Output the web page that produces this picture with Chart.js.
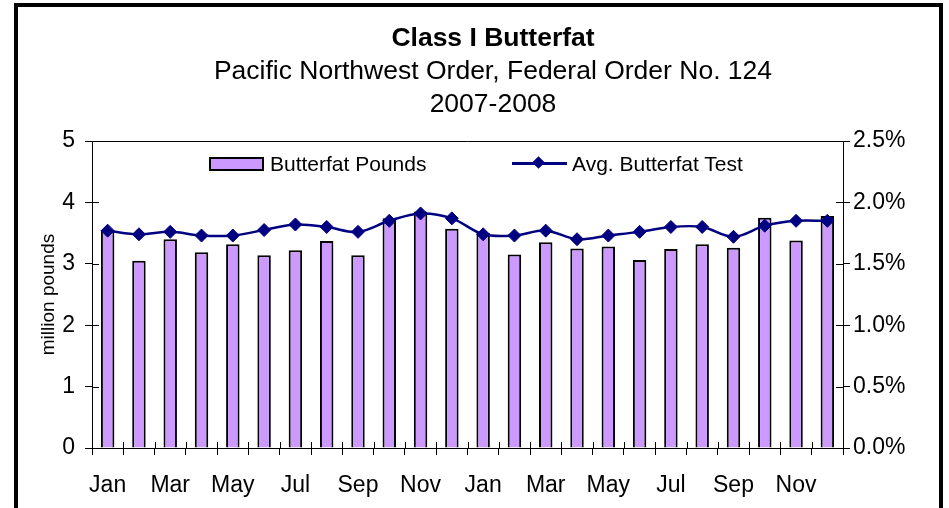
<!DOCTYPE html>
<html>
<head>
<meta charset="utf-8">
<script src="https://cdn.jsdelivr.net/npm/chart.js@4.4.1/dist/chart.umd.min.js"></script>
<style>
  body { margin: 0; background: #fff; font-family: "Liberation Sans", Arial, sans-serif; }
  #wrap { position: relative; width: 949px; height: 508px; overflow: hidden; }
  #frame { position: absolute; left: 14px; top: 3px; width: 929px; height: 600px; border: 4px solid #000; box-sizing: border-box; pointer-events: none; }
  #titles { position: absolute; left: 0; top: 21px; width: 986px; text-align: center; font-size: 26.5px; line-height: 33px; color: #000; }
  #titles .main { font-weight: bold; }
  .leg { position: absolute; font-size: 21px; line-height: 24px; color: #000; }
  #legBox { position: absolute; left: 209px; top: 157px; width: 55px; height: 14px; background: #CC99FF; border: 2px solid #000; box-sizing: border-box; }
  #legLine { position: absolute; left: 512px; top: 162px; width: 55px; height: 3px; background: #000080; }
  #legDot { position: absolute; left: 534px; top: 158px; width: 9px; height: 9px; background: #000080; transform: rotate(45deg); }
  canvas { position: absolute; left: 0; top: 0; }
</style>
</head>
<body>
<div id="wrap">
  <canvas id="myChart" width="949" height="508"></canvas>
  <div id="titles">
    <div class="main">Class I Butterfat</div>
    <div>Pacific Northwest Order, Federal Order No. 124</div>
    <div>2007-2008</div>
  </div>
  <div id="legBox"></div>
  <div class="leg" style="left:270px; top:152px;">Butterfat Pounds</div>
  <div id="legLine"></div>
  <div id="legDot"></div>
  <div class="leg" style="left:572px; top:152px;">Avg. Butterfat Test</div>
  <div id="frame"></div>
</div>
<script>
// meses (2007 e 2008)
const meses = ['Jan', 'Feb', 'Mar', 'Apr', 'May', 'Jun', 'Jul', 'Aug', 'Sep', 'Oct', 'Nov', 'Dec',
               'Jan', 'Feb', 'Mar', 'Apr', 'May', 'Jun', 'Jul', 'Aug', 'Sep', 'Oct', 'Nov', 'Dec'];

// milhões de libras
const butterfatPounds = [3.55, 3.05, 3.40, 3.19, 3.32, 3.14, 3.22, 3.37, 3.14, 3.74, 3.85, 3.57,
                         3.50, 3.15, 3.35, 3.25, 3.28, 3.06, 3.24, 3.32, 3.26, 3.75, 3.38, 3.78];

// teste médio de gordura (%)
const avgTest = [1.77, 1.74, 1.76, 1.73, 1.73, 1.775, 1.82, 1.80, 1.76, 1.85, 1.91, 1.87,
                 1.74, 1.73, 1.77, 1.70, 1.73, 1.76, 1.80, 1.80, 1.72, 1.81, 1.85, 1.85];

const leftTicks = [0, 1, 2, 3, 4, 5];
const rightTicks = [0, 0.5, 1.0, 1.5, 2.0, 2.5];

const tickFont = { family: 'Liberation Sans', size: 23 };

// linha no topo + pedacinho dos ticks para dentro
const topBorder = {
    id: 'topBorder',
    afterDraw(chart) {
        const a = chart.chartArea;
        const c = chart.ctx;
        c.save();
        c.strokeStyle = '#000';
        c.lineWidth = 1;
        c.beginPath();
        c.moveTo(a.left, Math.round(a.top) + 0.5);
        c.lineTo(a.right, Math.round(a.top) + 0.5);

        const x = chart.scales.x;
        for (let i = 0; i <= meses.length; i++) {
            const px = Math.round(x.getPixelForValue(i - 0.5)) + 0.5;
            c.moveTo(px, a.bottom);
            c.lineTo(px, a.bottom - 6);
        }
        const y = chart.scales.y;
        leftTicks.forEach(v => {
            const py = Math.round(y.getPixelForValue(v)) + 0.5;
            c.moveTo(a.left, py);
            c.lineTo(a.left + 7, py);
        });
        const y1 = chart.scales.y1;
        rightTicks.forEach(v => {
            const py = Math.round(y1.getPixelForValue(v)) + 0.5;
            c.moveTo(a.right, py);
            c.lineTo(a.right - 7, py);
        });
        c.stroke();
        c.restore();
    }
};

const ctx = document.getElementById('myChart').getContext('2d');
const myChart = new Chart(ctx, {
    type: 'bar',
    data: {
        labels: meses,
        datasets: [{
            type: 'line',
            label: 'Avg. Butterfat Test',
            data: avgTest,
            yAxisID: 'y1',
            borderColor: '#000080',
            backgroundColor: '#000080',
            borderWidth: 2.5,
            tension: 0.35,
            pointStyle: 'rectRot',
            pointRadius: 6.5,
            pointBorderWidth: 1,
            pointBackgroundColor: '#000080',
            pointBorderColor: '#000080',
            order: 0
        }, {
            label: 'Butterfat Pounds',
            data: butterfatPounds,
            yAxisID: 'y',
            backgroundColor: '#CC99FF',
            borderColor: '#000',
            borderWidth: 2,
            barPercentage: 0.43,
            categoryPercentage: 1.0,
            order: 1
        }]
    },
    options: {
        responsive: false,
        devicePixelRatio: 1,
        animation: false,
        layout: { padding: { top: 141, left: 0, right: 0, bottom: 0 } },
        plugins: {
            legend: { display: false },
            tooltip: { enabled: false }
        },
        scales: {
            x: {
                grid: { offset: true, drawOnChartArea: false, color: '#000', tickLength: 7 },
                border: { color: '#000', width: 1 },
                ticks: {
                    autoSkip: false,
                    maxRotation: 0,
                    padding: 17,
                    color: '#000',
                    font: tickFont,
                    callback: function(value, index) {
                        return index % 2 === 0 ? meses[index] : '';
                    }
                },
                afterFit: function(scale) { scale.height = 60; }
            },
            y: {
                position: 'left',
                min: 0,
                max: 5,
                afterBuildTicks: function(scale) {
                    scale.ticks = leftTicks.map(v => ({ value: v }));
                },
                grid: { drawOnChartArea: false, color: '#000', tickLength: 7 },
                border: { color: '#000', width: 1 },
                ticks: { padding: 10, color: '#000', font: tickFont },
                title: {
                    display: true,
                    text: 'million pounds',
                    color: '#000',
                    font: { family: 'Liberation Sans', size: 19 },
                    padding: { top: 37, bottom: 0 }
                },
                afterFit: function(scale) { scale.width = 92; }
            },
            y1: {
                position: 'right',
                min: 0,
                max: 2.5,
                afterBuildTicks: function(scale) {
                    scale.ticks = rightTicks.map(v => ({ value: v }));
                },
                grid: { drawOnChartArea: false, color: '#000', tickLength: 7 },
                border: { color: '#000', width: 1 },
                ticks: {
                    padding: 3,
                    color: '#000',
                    font: tickFont,
                    callback: function(value) { return value.toFixed(1) + '%'; }
                },
                afterFit: function(scale) { scale.width = 106; }
            }
        }
    },
    plugins: [topBorder]
});
</script>
</body>
</html>
